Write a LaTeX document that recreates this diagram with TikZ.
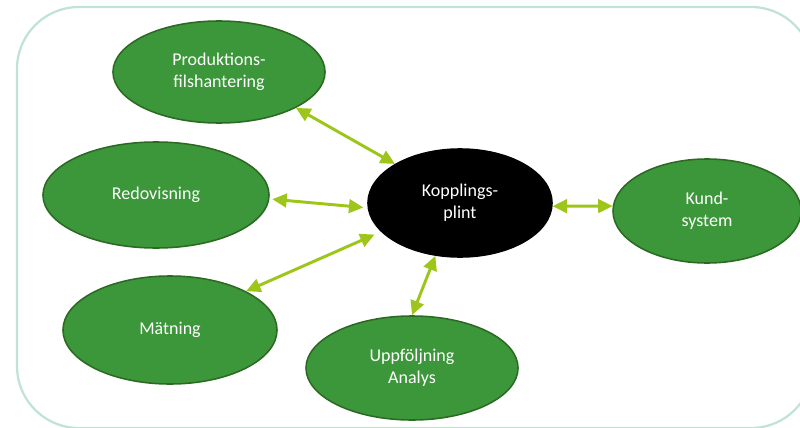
\documentclass[tikz,border=0pt]{standalone}
\usepackage{fontspec}
\setmainfont{Carlito}
\usepackage{tikz}
\usetikzlibrary{positioning}
\usetikzlibrary{shapes.geometric,arrows.meta}

\definecolor{FrameTeal}{RGB}{192,226,216}
\definecolor{BlobFill}{RGB}{60,150,58}
\definecolor{BlobEdge}{RGB}{44,106,36}
\definecolor{LinkLime}{RGB}{158,198,26}

\tikzset{
	blob/.style={ellipse, draw=BlobEdge, line width=1.1pt, fill=BlobFill,
		text=white, align=center, inner sep=0pt,
		font=\fontsize{12.8}{15.6}\selectfont},
	hub/.style={blob, draw=black, fill=black},
	link/.style={draw=LinkLime, line width=2.1pt,
		{Triangle[length=0.36cm,width=0.34cm]}-{Triangle[length=0.36cm,width=0.34cm]}},
}

\begin{document}
\begin{tikzpicture}[x=0.025cm, y=-0.025cm]

	% ------------------------------------------------
	% Size of the graphic
	\useasboundingbox (0,0) rectangle (800,427);
	\clip (0,0) rectangle (800,427);

	% ------------------------------------------------
	% Frame
	\draw[FrameTeal, line width=1.6pt, rounded corners=1.55cm] (17,7) rectangle (813,428);

	% ----------------
	% Central node and surrounding systems
	\node[hub, minimum width=4.6cm, minimum height=2.7cm] (Kopp) at (460,203) {Kopplings-\\plint};

	\node[blob, minimum width=5.3cm,  minimum height=2.55cm] (Prod)  at (219,72)  {Produktions-\\filshantering};
	\node[blob, minimum width=5.65cm, minimum height=2.65cm] (Redov) at (156,195) {Redovisning};
	\node[blob, minimum width=5.35cm, minimum height=2.7cm]  (Matn)  at (170,330) {Mätning};
	\node[blob, minimum width=5.3cm,  minimum height=2.6cm]  (Uppf)  at (412,368) {Uppföljning\\Analys};
	\node[blob, minimum width=4.7cm,  minimum height=2.6cm]  (Kund)  at (707,211) {Kund-\\system};

	%%%%%%%%%%%%%%%%%%%%%%%%%%%%%%%%%%%%%%%%%
	% Links
	\draw[link] (Prod.-25)  -- (Kopp.149);
	\draw[link, shorten <=2pt, shorten >=3pt] (Redov.-2) -- (Kopp.183);
	\draw[link, shorten >=5pt] (Matn.27) -- (Kopp.200);
	\draw[link] (Uppf.90)   -- (Kopp.245);
	\draw[link] (Kopp.-2)   -- (Kund.177);

\end{tikzpicture}
\end{document}
